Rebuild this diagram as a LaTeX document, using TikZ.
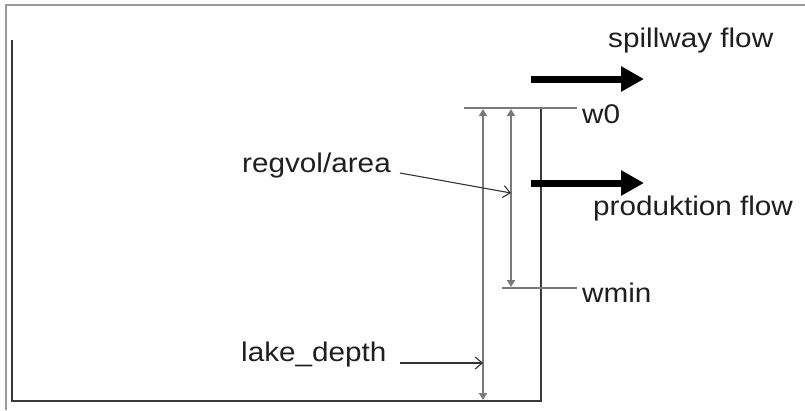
\documentclass[tikz,border=0pt]{standalone}
\usepackage{fontspec}
\setmainfont{Liberation Sans}
\usetikzlibrary{arrows.meta}
\definecolor{framegray}{HTML}{9A9A9A}
\definecolor{wallgray}{HTML}{3A3A3A}
\definecolor{dimgray}{HTML}{7A7A7A}
\definecolor{pointgray}{HTML}{333333}
\tikzset{
  lbl/.style={anchor=base west, inner sep=0pt, font=\fontsize{27}{27}\selectfont, text=black!88},
  framestyle/.style={draw=framegray, line width=2pt},
  wall/.style={draw=wallgray, line width=2pt},
  level/.style={draw=dimgray, line width=2.2pt},
  dimline/.style={draw=dimgray, line width=1.8pt, {Triangle[length=7pt,width=8pt]}-{Triangle[length=7pt,width=8pt]}},
  pointer/.style={draw=pointgray, line width=1.1pt, -{Straight Barb[length=7pt,width=12pt]}},
  flow/.style={draw=black, line width=7pt, -{Triangle[length=23pt,width=24pt]}}
}
\newcommand{\wide}[1]{\scalebox{1.1}[1]{#1}}
\begin{document}
\begin{tikzpicture}[x=1pt,y=-1pt]
\useasboundingbox (0,0) rectangle (805,410);
% outer frame
\coordinate (fTR) at (805,5);
\coordinate (fTL) at (6,5);
\coordinate (fBL) at (6,410);
\draw[framestyle] (fTR) -- (fTL) -- (fBL);
% lake
\coordinate (lTL) at (12,40);
\coordinate (lBL) at (12,401);
\coordinate (lBR) at (541,401);
\coordinate (lTR) at (541,108);
\draw[wall] (lTL) -- (lBL) -- (lBR) -- (lTR);
% levels
\coordinate (w0a) at (464,108);
\coordinate (w0b) at (577,108);
\coordinate (wma) at (502,288);
\coordinate (wmb) at (577,288);
\draw[level] (w0a) -- (w0b);
\draw[level] (wma) -- (wmb);
% dimension arrows
\coordinate (ldTop) at (483,109);
\coordinate (ldBot) at (483,400);
\coordinate (rvTop) at (511,109);
\coordinate (rvBot) at (511,287);
\draw[dimline] (ldTop) -- (ldBot);
\draw[dimline] (rvTop) -- (rvBot);
% labels
\node[lbl] (spill) at (608,47) {\wide{spillway flow}};
\node[lbl] (w0) at (582,123) {\wide{w0}};
\node[lbl] (prod) at (593,215) {\wide{produktion flow}};
\node[lbl] (wmin) at (582,302) {\wide{wmin}};
\node[lbl] (regvol) at (242,172) {\wide{regvol/area}};
\node[lbl] (lake) at (241,361) {\wide{lake\_depth}};
% pointers
\coordinate (rvS) at (400,173);
\coordinate (rvE) at (511,193);
\coordinate (ldS) at (400,363);
\coordinate (ldE) at (483,363);
\draw[pointer] (rvS) -- (rvE);
\draw[pointer] (ldS) -- (ldE);
% flows
\coordinate (sfS) at (531,79);
\coordinate (sfE) at (644,79);
\coordinate (pfS) at (531,183);
\coordinate (pfE) at (644,183);
\draw[flow] (sfS) -- (sfE);
\draw[flow] (pfS) -- (pfE);
\end{tikzpicture}
\end{document}
